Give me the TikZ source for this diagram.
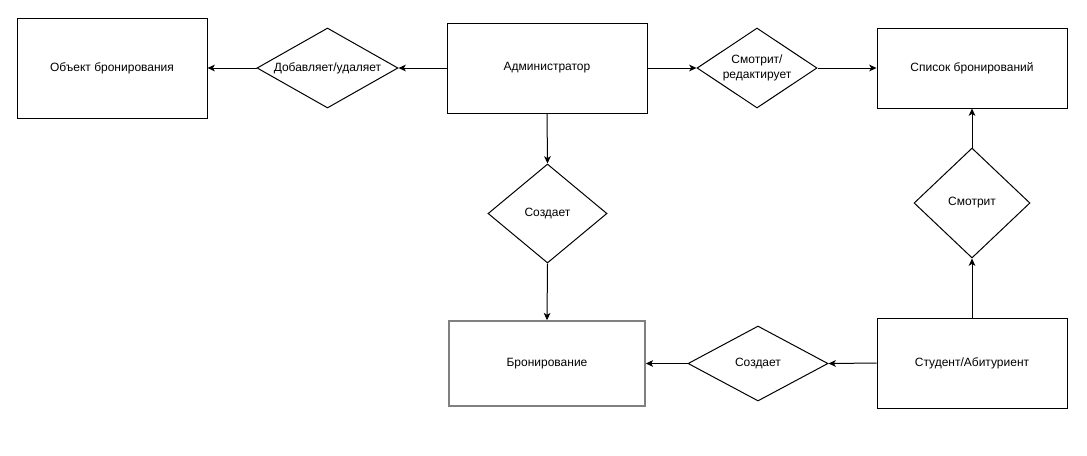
\documentclass[tikz,border=0pt]{standalone}
\usepackage{fontspec}
\setmainfont{Liberation Sans}
\usetikzlibrary{shapes.geometric,arrows.meta}
\begin{document}
\begin{tikzpicture}[x=0.75pt,y=-0.75pt,
  font=\fontsize{9}{11}\selectfont,
  every node/.style={line width=0.75pt},
  entity/.style={draw, rectangle, inner sep=0pt, align=center},
  relation/.style={draw, diamond, inner sep=0pt, align=center},
  conn/.style={line width=0.75pt, -{Stealth[length=5.5pt,width=5pt,inset=1.5pt]}}
]
\useasboundingbox (0,0) rectangle (1087,455);
\fill[white] (0,0) rectangle (1087,455);

% entities
\node[entity, minimum width=142.5pt, minimum height=75pt] (obj) at (112,68) {Объект бронирования};
\node[entity, minimum width=150pt, minimum height=67.5pt] (admin) at (547,68) {Администратор};
\node[entity, minimum width=142.5pt, minimum height=60pt] (list) at (972,68) {Список бронирований};
\node[entity, draw=black!50, line width=1.2pt, minimum width=147pt, minimum height=63.75pt] (bron) at (547,363.5) {Бронирование};
\node[entity, minimum width=142.5pt, minimum height=67.5pt] (stud) at (972,363) {Студент/Абитуриент};

% relations
\node[relation, aspect=2, minimum width=105.75pt, minimum height=60pt] (dob) at (327.5,68) {Добавляет/удаляет};
\node[relation, aspect=1.5, minimum width=90pt, minimum height=60pt] (smo) at (757,68) {Смотрит/\\редактирует};
\node[relation, aspect=1, minimum width=89.25pt, minimum height=74.25pt] (soz1) at (547.5,213.5) {Создает};
\node[relation, aspect=1, minimum width=87pt, minimum height=82.5pt] (smo2) at (972,203) {Смотрит};
\node[relation, aspect=2, minimum width=105pt, minimum height=56.25pt] (soz2) at (758,363.5) {Создает};

% connectors
\draw[conn] (admin.west) -- (dob.east);
\draw[conn] (dob.west) -- (obj.east);
\draw[conn] (admin.east) -- (smo.west);
\draw[conn] (smo.east) -- (list.west);
\draw[conn] (admin.south) -- (soz1.north);
\draw[conn] (soz1.south) -- (bron.north);
\draw[conn] (stud.north) -- (smo2.south);
\draw[conn] (smo2.north) -- (list.south);
\draw[conn] (stud.west) -- (soz2.east);
\draw[conn] (soz2.west) -- (bron.east);
\end{tikzpicture}
\end{document}
